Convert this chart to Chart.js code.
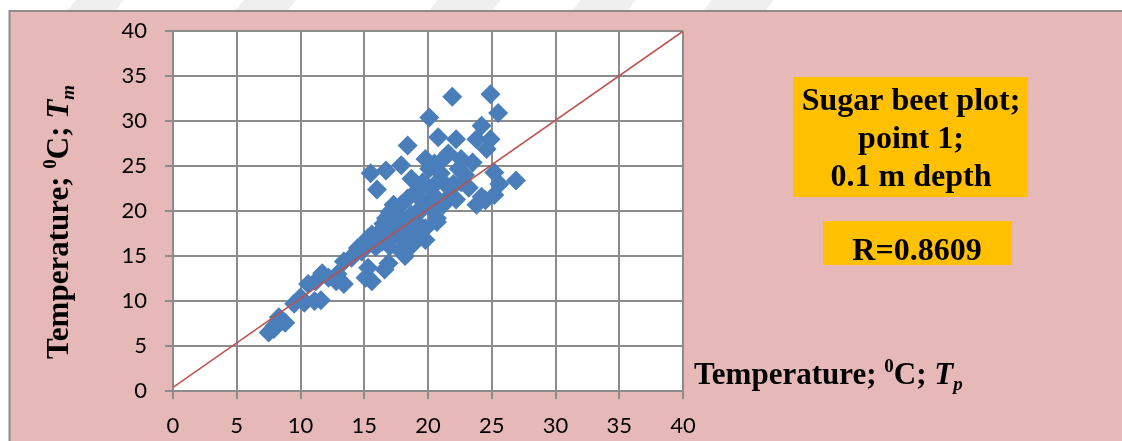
<!DOCTYPE html>
<html>
<head>
<meta charset="utf-8">
<script src="https://cdn.jsdelivr.net/npm/chart.js@4.4.1/dist/chart.umd.min.js"></script>
<style>
  html, body { margin: 0; padding: 0; background: #ffffff; overflow: hidden; }
  #wrap { position: relative; width: 1122px; height: 441px; }
</style>
</head>
<body>
<div id="wrap"><canvas id="c" width="1122" height="441"></canvas></div>
<script>
// Predicted soil temperature Tp (x) and measured soil temperature Tm (y), °C
const tpValues = [
  7.5, 8.0, 8.3, 8.6, 7.9, 8.8, 9.5, 10.0, 10.3, 11.1,
  11.6, 10.6, 11.2, 11.7, 12.2, 12.8, 13.4, 12.9, 13.4, 14.0,
  14.2, 14.5, 15.0, 15.3, 15.6, 15.1, 15.3, 15.6, 16.6, 16.9,
  15.5, 16.0, 16.7, 17.9, 18.4, 16.2, 16.5, 16.7, 17.0, 17.3,
  17.9, 18.4, 19.0, 18.7, 19.6, 17.9, 18.7, 19.6, 20.1, 20.7,
  20.1, 20.7, 17.3, 18.2, 17.9, 17.0, 18.4, 19.3, 19.8, 20.7,
  16.4, 17.1, 17.6, 18.0, 18.8, 19.2, 19.8, 20.1, 21.2, 22.6,
  23.5, 22.4, 22.9, 25.2, 26.9, 25.6, 25.2, 24.2, 23.8, 24.5,
  22.6, 21.8, 21.5, 21.2, 20.7, 19.8, 20.1, 21.9, 24.9, 25.5,
  24.2, 20.8, 22.2, 23.8, 24.9, 24.6, 21.0, 22.0, 21.5, 20.3,
  19.2, 18.5, 22.2, 23.2, 20.5, 21.6, 14.8, 15.9, 18.2, 19.0
];
const tmValues = [
  6.5, 7.3, 8.2, 7.8, 6.9, 7.6, 9.7, 10.4, 9.8, 10.0,
  10.1, 11.9, 12.2, 13.1, 12.6, 12.2, 11.9, 13.0, 14.4, 14.8,
  15.2, 15.9, 16.3, 17.0, 17.4, 12.6, 13.7, 12.2, 13.5, 14.2,
  24.2, 22.4, 24.5, 25.1, 27.3, 17.7, 18.6, 19.2, 19.9, 20.7,
  20.7, 21.4, 22.1, 23.6, 23.2, 19.2, 19.6, 20.3, 21.0, 21.4,
  22.5, 23.2, 17.4, 16.6, 15.5, 16.1, 17.7, 18.5, 18.1, 19.2,
  16.6, 18.0, 18.6, 17.0, 16.3, 20.0, 25.8, 24.7, 25.8, 25.8,
  25.4, 24.7, 24.0, 24.3, 23.4, 23.0, 21.8, 21.6, 20.7, 21.2,
  23.2, 22.5, 21.4, 20.7, 18.8, 16.8, 30.4, 32.7, 33.0, 30.9,
  29.5, 28.2, 28.0, 28.0, 28.0, 26.9, 24.2, 23.0, 22.8, 20.2,
  21.6, 18.5, 21.3, 22.6, 25.3, 26.4, 15.5, 16.0, 15.0, 17.2
];
// Reference line end points (Tp, Tm)
const lineX = [0, 40];
const lineY = [0.4, 40];
const axisTicks = [0, 5, 10, 15, 20, 25, 30, 35, 40];

const infoLines = ['Sugar beet plot;', 'point 1;', '0.1 m depth'];
const rLabel = 'R=0.8609';

const PINK = '#E6B9B8';
const GRID = '#8C8C8C';
const BLUE = '#4A7EBB';
const RED = '#C0504D';
const ORANGE = '#FFC000';
const SERIF = '"Liberation Serif", "Times New Roman", serif';

function richWidth(ctx, parts) {
  let w = 0;
  for (const p of parts) { ctx.font = p.font; w += ctx.measureText(p.t).width; }
  return w;
}
function drawRich(ctx, parts, x, y) {
  let cx = x;
  for (const p of parts) {
    ctx.font = p.font;
    ctx.fillText(p.t, cx, y + (p.dy || 0));
    cx += ctx.measureText(p.t).width;
  }
}
function titleParts(size, sub) {
  const small = Math.round(size * 0.62);
  return [
    { t: 'Temperature; ', font: `bold ${size}px ${SERIF}` },
    { t: '0', font: `bold ${small}px ${SERIF}`, dy: -size * 0.38 },
    { t: 'C; ', font: `bold ${size}px ${SERIF}` },
    { t: 'T', font: `italic bold ${size}px ${SERIF}` },
    { t: sub, font: `italic bold ${small}px ${SERIF}`, dy: size * 0.2 }
  ];
}

const decor = {
  id: 'decor',
  beforeDraw(chart) {
    const ctx = chart.ctx;
    const a = chart.chartArea;
    ctx.save();
    ctx.fillStyle = '#ffffff';
    ctx.fillRect(0, 0, chart.width, chart.height);
    // faint slanted page marks above the frame
    ctx.fillStyle = '#EFEFEF';
    const marks = [[70, 118], [238, 290], [432, 495], [575, 630], [706, 768]];
    for (const [l, r] of marks) {
      ctx.beginPath();
      ctx.moveTo(l + 6, 0); ctx.lineTo(r + 6, 0);
      ctx.lineTo(r - 4, 12); ctx.lineTo(l - 4, 12);
      ctx.closePath(); ctx.fill();
    }
    // framed pink panel
    ctx.fillStyle = PINK;
    ctx.fillRect(9, 10, chart.width - 9, chart.height - 10);
    ctx.strokeStyle = GRID;
    ctx.lineWidth = 2;
    ctx.beginPath();
    ctx.moveTo(9.5, chart.height); ctx.lineTo(9.5, 11); ctx.lineTo(chart.width, 11);
    ctx.stroke();
    // plot area
    ctx.fillStyle = '#ffffff';
    ctx.fillRect(a.left, a.top, a.right - a.left, a.bottom - a.top);
    ctx.restore();
  },
  afterDraw(chart) {
    const ctx = chart.ctx;
    ctx.save();
    ctx.fillStyle = '#000000';
    ctx.textBaseline = 'alphabetic';
    ctx.textAlign = 'left';

    // y axis title (rotated)
    const yp = titleParts(31, 'm');
    const yw = richWidth(ctx, yp);
    ctx.save();
    ctx.translate(68, 222);
    ctx.rotate(-Math.PI / 2);
    drawRich(ctx, yp, -yw / 2, 0);
    ctx.restore();

    // x axis title beside the plot
    drawRich(ctx, titleParts(31, 'p'), 694, 384);

    // info boxes
    ctx.fillStyle = ORANGE;
    ctx.fillRect(793, 77, 235, 120);
    ctx.fillRect(823, 221, 189, 44);
    ctx.fillStyle = '#000000';
    ctx.textAlign = 'center';
    ctx.font = `bold 32px ${SERIF}`;
    const base = [110, 148, 186];
    infoLines.forEach((s, i) => ctx.fillText(s, 911, base[i]));
    ctx.fillText(rLabel, 917, 260);
    ctx.restore();
  }
};

const scatterPoints = tpValues.map((x, i) => ({ x, y: tmValues[i] }));
const linePoints = lineX.map((x, i) => ({ x, y: lineY[i] }));

const tickFont = { family: 'Lato, "Open Sans", sans-serif', size: 22 };

function axis(afterFit, padding) {
  return {
    type: 'linear',
    min: 0,
    max: 40,
    afterBuildTicks(s) { s.ticks = axisTicks.map(v => ({ value: v })); },
    afterFit,
    ticks: { color: '#000000', font: tickFont, padding, maxRotation: 0, autoSkip: false },
    grid: { color: GRID, lineWidth: 2, tickLength: 8, drawTicks: true },
    border: { color: GRID, width: 2 }
  };
}

new Chart(document.getElementById('c'), {
  type: 'scatter',
  data: {
    datasets: [
      {
        type: 'line',
        data: linePoints,
        borderColor: RED,
        borderWidth: 1.6,
        pointRadius: 0,
        fill: false,
        tension: 0
      },
      {
        type: 'scatter',
        data: scatterPoints,
        pointStyle: 'rectRot',
        pointRadius: 10,
        backgroundColor: BLUE,
        borderColor: BLUE,
        borderWidth: 0
      }
    ]
  },
  options: {
    responsive: false,
    devicePixelRatio: 1,
    animation: false,
    layout: { padding: { top: 28, right: 439, bottom: 0, left: 0 } },
    plugins: { legend: { display: false }, tooltip: { enabled: false } },
    scales: {
      x: axis(s => { s.height = 50; }, 14),
      y: axis(s => { s.width = 173; }, 18)
    }
  },
  plugins: [decor]
});
</script>
</body>
</html>
